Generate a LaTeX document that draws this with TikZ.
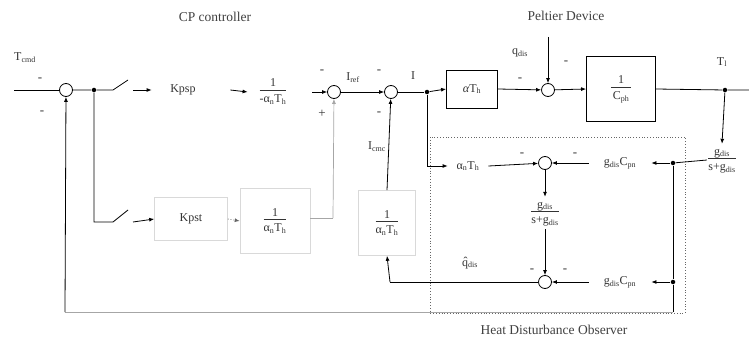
\documentclass[tikz,border=0pt]{standalone}
\usepackage{fontspec}
\setmainfont{Liberation Serif}
\usetikzlibrary{arrows.meta}
\newcommand{\sub}[1]{\textsubscript{#1}}
\newcommand{\fr}[2]{\begin{tabular}{@{}c@{}}#1\\[-1pt]\hline\rule{0pt}{12pt}#2\end{tabular}}
\begin{document}
\begin{tikzpicture}[x=1pt,y=-1pt,
  line width=0.8pt,
  sumc/.style={circle,draw,minimum size=13pt,inner sep=0pt},
  dotj/.style={circle,fill,minimum size=4.5pt,inner sep=0pt},
  blk/.style={draw,inner sep=0pt},
  faintblk/.style={draw=black!15,line width=0.6pt,inner sep=0pt},
  txt/.style={inner sep=1pt,font=\fontsize{12}{14}\selectfont,text=black!80},
  ttl/.style={inner sep=1pt,font=\fontsize{13.5}{15}\selectfont,text=black!75},
  sgn/.style={inner sep=0pt,font=\fontsize{13}{13}\selectfont,text=black!80},
  arr/.style={-{Latex[length=5pt,width=4pt]}},
  faint/.style={draw=black!35,line width=0.7pt}]
\useasboundingbox (0,0) rectangle (749,342);

% labels
\node[ttl] (cp) at (215,17) {CP controller};
\node[ttl] (pd) at (566,16) {Peltier Device};
\node[ttl] (hdo) at (554,330) {Heat Disturbance Observer};
\node[txt] (tcmd) at (25,58) {T\sub{cmd}};

% dotted observer box
\draw[dotted,line width=0.8pt,black!60] (430,137) rectangle (685,313);

% main path
\coordinate (in) at (14,90);
\node[sumc] (s1) at (66,90) {};
\node[dotj] (j1) at (94,90) {};
\coordinate (sw1a) at (113,90);
\coordinate (sw1b) at (128,80);
\coordinate (k1in) at (133,90);
\node[txt,minimum width=62pt] (kpsp) at (183,90) {Kpsp};
\node[txt,minimum width=50pt] (f1) at (273,92) {\fr{1}{-α\sub{n}T\sub{h}}};
\node[sumc] (s2) at (334,92) {};
\node[sumc] (s3) at (391,92) {};
\node[dotj] (j2) at (427,92) {};
\node[blk,txt,minimum width=51pt,minimum height=38pt] (aT) at (472,89) {\textit{α}T\sub{h}};
\node[sumc] (s4) at (548,90) {};
\coordinate (qin) at (548,37);
\node[blk,txt,minimum width=69pt,minimum height=65pt] (C) at (621,89) {\fr{\,\,1\,\,}{\,C\sub{ph}\,}};
\node[dotj] (j3) at (725,90) {};
\coordinate (out) at (749,90);

\draw (in) -- (s1);
\draw (s1) -- (j1) -- (sw1a) -- (sw1b);
\draw[arr] (k1in) -- (kpsp.west);
\draw[arr] ([xshift=16pt]kpsp.east) -- (f1.west);
\draw[arr] ([xshift=14pt]f1.east) -- (s2);
\draw[arr] (s2) -- (s3);
\draw (s3) -- (j2);
\draw[arr] (j2) -- (aT.west);
\draw[arr] (aT.east) -- (s4);
\draw[arr] (qin) -- (s4);
\draw[arr] (s4) -- (C.west);
\draw (C.east) -- (j3) -- (out);

% signs and labels on main path
\node[sgn] (m1) at (40,80) {-};
\node[sgn] (m2) at (42,113) {-};
\node[sgn] (m3) at (322,72) {-};
\node[sgn] (p1) at (322,114) {+};
\node[txt] (iref) at (353,78) {I\sub{ref}};
\node[sgn] (m4) at (379,72) {-};
\node[sgn] (m5) at (379,114) {-};
\node[txt] (ilab) at (413,76) {I};
\node[txt] (qdis) at (520,53) {q\sub{dis}};
\node[sgn] (m6) at (520,80) {-};
\node[sgn] (m7) at (566,63) {-};
\node[txt] (tl) at (722,62) {T\sub{l}};

% lower controller path
\coordinate (jd) at (94,222);
\coordinate (sw2a) at (113,222);
\coordinate (sw2b) at (128,210);
\coordinate (k2in) at (133,222);
\node[txt,faintblk,minimum width=73pt,minimum height=43pt] (kpst) at (191,219) {Kpst};
\node[txt,faintblk,minimum width=70pt,minimum height=65pt] (f3) at (275,221) {\fr{1}{α\sub{n}T\sub{h}}};
\coordinate (f3o) at (333,218);
\draw (j1) -- (jd) -- (sw2a) -- (sw2b);
\draw[arr] (k2in) -- (kpst.west);
\draw[arr,dotted,black!60] (kpst.east) -- (f3.west);
\draw[faint] (f3.east |- f3o) -- (f3o);
\draw[arr,faint] (f3o) -- (s2);

% observer
\node[txt,faintblk,minimum width=57pt,minimum height=65pt] (b3) at (387,223) {\fr{1}{α\sub{n}T\sub{h}}};
\node[txt] (icmc) at (377,147) {I\sub{cmc}};
\draw[arr] (b3.north) -- (s3);
\coordinate (jd2) at (427,166);
\node[txt,minimum width=40pt] (anT) at (468,166) {α\sub{n}T\sub{h}};
\draw (j2) -- (jd2);
\draw[arr] (jd2) -- (anT.west);
\node[sumc] (s5) at (545,163) {};
\draw[arr] (anT.east) -- (s5);
\node[txt] (f2) at (545,213) {\fr{g\sub{dis}}{s+g\sub{dis}}};
\draw[arr] (s5) -- (f2.north);
\node[sumc] (s6) at (545,282) {};
\draw[arr] (f2.south) -- (s6);
\node[txt,minimum width=62pt] (gc1) at (620,163) {g\sub{dis}C\sub{pn}};
\node[txt,minimum width=62pt] (gc2) at (620,282) {g\sub{dis}C\sub{pn}};
\draw[arr] (gc1.west) -- (s5);
\draw[arr] (gc2.west) -- (s6);
\node[sgn] (m8) at (522,155) {-};
\node[sgn] (m9) at (575,155) {-};
\node[sgn] (m10) at (532,271) {-};
\node[sgn] (m11) at (565,271) {-};
\coordinate (lb) at (390,282);
\draw (s6) -- (lb);
\draw[arr] (lb) -- (b3.south);
\node[txt] (qhat) at (470,263) {q̂\sub{dis}};

% right filter
\node[txt] (f4) at (722,160) {\fr{g\sub{dis}}{s+g\sub{dis}}};
\draw[arr] (j3) -- (f4.north);
\node[dotj] (j4) at (673,163) {};
\node[dotj] (j5) at (673,282) {};
\coordinate (fb1) at (673,312);
\coordinate (fb2) at (65,312);
\draw (f4.west) -- (j4);
\draw[arr] (j4) -- (gc1.east);
\draw[arr] (j5) -- (gc2.east);
\draw (j4) -- (j5) -- (fb1);
\draw[faint] (fb1) -- (fb2);
\draw[arr] (fb2) -- (s1);
\end{tikzpicture}
\end{document}
